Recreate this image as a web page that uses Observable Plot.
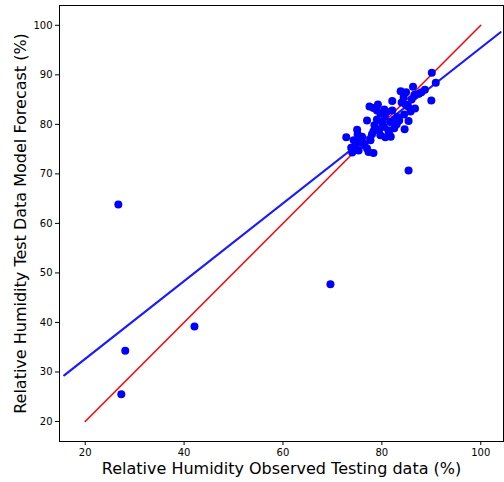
<!DOCTYPE html>
<html>
<head>
<meta charset="utf-8">
<script src="https://cdn.jsdelivr.net/npm/d3@7"></script>
<script src="https://cdn.jsdelivr.net/npm/@observablehq/plot@0.6"></script>
<style>
  html, body { margin: 0; padding: 0; background: #fff; }
  #chart { width: 504px; height: 482px; }
</style>
</head>
<body>
<div id="chart"></div>
<script>
// Observed (x) and forecast (y) relative humidity
const observed = [
  26.7, 28.1, 27.3, 42.1, 69.6, 85.4,
  90.1, 90.9, 90.0, 86.3, 88.7, 87.5, 83.8, 84.9, 84.4, 82.1, 79.2, 77.5, 78.3, 79.7,
  80.6, 84.0, 86.7, 85.3, 77.0, 82.1, 83.1, 85.4, 84.6, 72.8, 75.0, 75.1, 78.3, 79.7,
  80.4, 81.7, 80.7, 74.3, 74.7, 73.8, 75.3, 77.0, 77.3, 78.3, 76.3, 77.7, 81.5, 82.5,
  83.5, 84.5, 85.8, 86.0, 79.0, 80.0, 81.0, 78.5, 79.5, 81.8, 83.0, 76.0, 75.5, 74.0,
  80.5, 82.5, 88.0, 86.6, 79.0, 76.5, 84.8, 81.3, 78.0
];
const forecast = [
  63.8, 34.3, 25.5, 39.2, 47.7, 70.7,
  90.4, 88.4, 84.8, 87.6, 87.0, 86.2, 86.7, 86.5, 85.5, 84.7, 84.0, 83.6, 83.3, 82.2,
  81.6, 84.4, 83.2, 83.6, 80.8, 82.8, 81.5, 80.7, 79.0, 77.4, 78.9, 78.0, 78.6, 77.8,
  79.5, 80.5, 77.4, 76.8, 75.8, 75.3, 74.7, 75.1, 74.4, 74.2, 76.1, 76.8, 78.0, 79.2,
  80.8, 82.0, 82.6, 85.0, 81.0, 80.5, 82.5, 79.8, 79.0, 77.5, 80.0, 77.5, 76.5, 74.3,
  83.0, 81.0, 86.5, 86.0, 82.8, 75.8, 84.0, 78.8, 78.0
];
// Identity line (perfect forecast)
const identityX = [20, 100];
const identityY = [20, 100];
// Fitted line end points
const fitX = [15.75, 104.0];
const fitY = [29.3, 98.6];
// Tick values
const xTicks = [20, 40, 60, 80, 100];
const yTicks = [20, 30, 40, 50, 60, 70, 80, 90, 100];
const xLabel = "Relative Humidity Observed Testing data (%)";
const yLabel = "Relative Humidity Test Data Model Forecast (%)";

const points = observed.map((x, i) => ({x, y: forecast[i]}));
const identity = identityX.map((x, i) => ({x, y: identityY[i]}));
const fit = fitX.map((x, i) => ({x, y: fitY[i]}));

const chart = Plot.plot({
  width: 504,
  height: 482,
  marginLeft: 59,
  marginRight: 1,
  marginTop: 5,
  marginBottom: 41,
  style: {fontFamily: "DejaVu Sans, sans-serif", fontSize: "10px", color: "#000", background: "#fff"},
  x: {domain: [14.8, 104.6], ticks: xTicks, tickFormat: d => String(d)},
  y: {domain: [15.96, 104.0], ticks: yTicks, tickFormat: d => String(d)},
  marks: [
    Plot.axisX({ticks: xTicks, tickSize: 4, tickPadding: 3, label: null, fontSize: 10}),
    Plot.axisY({ticks: yTicks, tickSize: 4, tickPadding: 3, label: null, fontSize: 10}),
    Plot.line(identity, {x: "x", y: "y", stroke: "red", strokeWidth: 1.5}),
    Plot.line(fit, {x: "x", y: "y", stroke: "#1a1aff", strokeWidth: 2.2}),
    Plot.dot(points, {x: "x", y: "y", r: 4, fill: "#0000ff", stroke: "none"}),
    Plot.frame({stroke: "#000", strokeWidth: 1}),
    Plot.text([xLabel], {text: d => d, frameAnchor: "bottom", textAnchor: "middle", lineAnchor: "middle", dy: 27, fontSize: 16, fill: "#000"}),
    Plot.text([yLabel], {text: d => d, frameAnchor: "left", textAnchor: "middle", lineAnchor: "middle", dx: -39, rotate: -90, fontSize: 16, fill: "#000"})
  ]
});
document.getElementById("chart").appendChild(chart);
</script>
</body>
</html>
